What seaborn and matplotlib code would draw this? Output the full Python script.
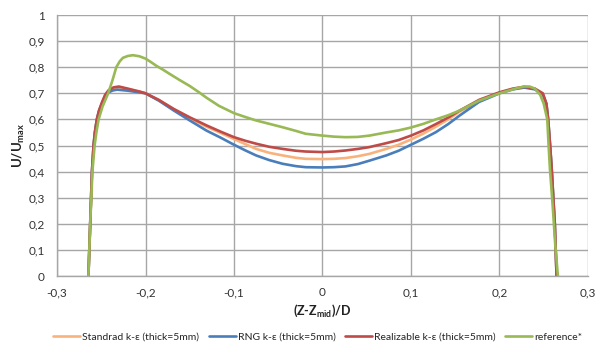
import matplotlib
matplotlib.use("Agg")
import matplotlib.pyplot as plt
import seaborn as sns
import pandas as pd
from matplotlib.ticker import MultipleLocator, FuncFormatter

# ---- data ----
labels = ["Standrad k-ε (thick=5mm)", "RNG k-ε (thick=5mm)",
          "Realizable k-ε (thick=5mm)", "reference*"]
colors = ["#F9B27C", "#4A7EBB", "#BE4B48", "#98B954"]

std_x = [-0.2645, -0.2635, -0.2625, -0.2615, -0.2605, -0.2587, -0.2572, -0.255, -0.2525,
         -0.249, -0.2455, -0.2417, -0.236, -0.230, -0.220, -0.2057, -0.200, -0.185, -0.168,
         -0.150, -0.131, -0.115, -0.100, -0.087, -0.075, -0.060, -0.045, -0.030, -0.019,
         0.000, 0.013, 0.026, 0.040, 0.053, 0.072, 0.086, 0.100, 0.114, 0.128, 0.142,
         0.155, 0.177, 0.200, 0.215, 0.228, 0.240, 0.249, 0.253, 0.255, 0.2572, 0.259,
         0.2608, 0.2625, 0.2645]
std_y = [0.0, 0.1, 0.2, 0.3, 0.4, 0.5, 0.55, 0.6, 0.633, 0.665, 0.692, 0.708, 0.719,
         0.722, 0.716, 0.705, 0.700, 0.674, 0.638, 0.604, 0.572, 0.548, 0.525, 0.505,
         0.487, 0.472, 0.462, 0.453, 0.449, 0.448, 0.449, 0.452, 0.459, 0.468, 0.487,
         0.503, 0.523, 0.546, 0.572, 0.600, 0.630, 0.672, 0.702, 0.716, 0.724, 0.717,
         0.698, 0.66, 0.60, 0.50, 0.41, 0.30, 0.2, 0.0]

rng_x = [-0.2645, -0.2635, -0.2625, -0.2615, -0.2605, -0.2587, -0.2572, -0.255, -0.2525,
         -0.249, -0.2455, -0.242, -0.237, -0.232, -0.220, -0.206, -0.200, -0.185, -0.168,
         -0.150, -0.131, -0.115, -0.100, -0.087, -0.075, -0.060, -0.045, -0.030, -0.019,
         0.000, 0.013, 0.026, 0.040, 0.053, 0.072, 0.086, 0.100, 0.114, 0.128, 0.142,
         0.155, 0.177, 0.200, 0.215, 0.228, 0.240, 0.249, 0.253, 0.255, 0.2572, 0.259,
         0.2608, 0.2625, 0.2645]
rng_y = [0.0, 0.1, 0.2, 0.3, 0.4, 0.5, 0.55, 0.6, 0.632, 0.663, 0.690, 0.703, 0.711,
         0.714, 0.710, 0.703, 0.700, 0.672, 0.634, 0.596, 0.557, 0.530, 0.503, 0.481,
         0.462, 0.444, 0.430, 0.421, 0.417, 0.416, 0.417, 0.420, 0.429, 0.442, 0.462,
         0.480, 0.503, 0.526, 0.551, 0.582, 0.615, 0.667, 0.700, 0.715, 0.722, 0.715,
         0.695, 0.66, 0.60, 0.50, 0.41, 0.30, 0.2, 0.0]

real_x = [-0.2645, -0.2635, -0.2625, -0.2615, -0.2605, -0.2587, -0.2572, -0.255, -0.2525,
          -0.249, -0.2455, -0.2417, -0.236, -0.230, -0.220, -0.2057, -0.200, -0.185, -0.168,
          -0.150, -0.131, -0.115, -0.100, -0.087, -0.075, -0.060, -0.045, -0.030, -0.019,
          0.000, 0.013, 0.026, 0.040, 0.053, 0.072, 0.086, 0.100, 0.114, 0.128, 0.142,
          0.155, 0.177, 0.200, 0.215, 0.228, 0.240, 0.249, 0.253, 0.255, 0.2572, 0.259,
          0.2608, 0.2625, 0.2645]
real_y = [0.0, 0.1, 0.2, 0.3, 0.4, 0.5, 0.55, 0.6, 0.635, 0.667, 0.695, 0.712, 0.723,
          0.726, 0.718, 0.706, 0.700, 0.675, 0.640, 0.608, 0.577, 0.553, 0.532, 0.518,
          0.507, 0.495, 0.487, 0.480, 0.477, 0.475, 0.477, 0.481, 0.487, 0.494, 0.509,
          0.521, 0.538, 0.558, 0.582, 0.607, 0.634, 0.675, 0.704, 0.718, 0.725, 0.718,
          0.700, 0.66, 0.60, 0.50, 0.41, 0.30, 0.2, 0.0]

ref_x = [-0.2645, -0.2635, -0.2625, -0.2612, -0.2600, -0.2575, -0.2555, -0.253, -0.2485,
         -0.2424, -0.2374, -0.233, -0.229, -0.2255, -0.220, -0.2143, -0.207, -0.200,
         -0.194, -0.188, -0.180, -0.173, -0.162, -0.150, -0.140, -0.131, -0.117, -0.100,
         -0.087, -0.075, -0.060, -0.045, -0.030, -0.019, 0.000, 0.013, 0.026, 0.040,
         0.053, 0.072, 0.086, 0.100, 0.114, 0.128, 0.142, 0.155, 0.177, 0.200, 0.211,
         0.220, 0.228, 0.234, 0.240, 0.246, 0.250, 0.254, 0.2555, 0.257, 0.2588, 0.2605,
         0.263, 0.266]
ref_y = [0.0, 0.1, 0.2, 0.3, 0.4, 0.5, 0.55, 0.6, 0.65, 0.698, 0.749, 0.800, 0.823,
         0.836, 0.843, 0.846, 0.842, 0.833, 0.820, 0.806, 0.790, 0.775, 0.752, 0.728,
         0.705, 0.683, 0.652, 0.624, 0.609, 0.596, 0.583, 0.570, 0.556, 0.545, 0.538,
         0.534, 0.532, 0.533, 0.538, 0.550, 0.558, 0.569, 0.583, 0.600, 0.616, 0.634,
         0.672, 0.700, 0.711, 0.720, 0.726, 0.726, 0.718, 0.694, 0.66, 0.60, 0.50, 0.41,
         0.33, 0.25, 0.12, 0.0]

series = [(std_x, std_y), (rng_x, rng_y), (real_x, real_y), (ref_x, ref_y)]

frames = []
for lab, (xs, ys) in zip(labels, series):
    frames.append(pd.DataFrame({"x": xs, "y": ys, "model": lab}))
df = pd.concat(frames, ignore_index=True)

# ---- style ----
sns.set_style("white")
plt.rcParams['font.family'] = ['Lato', 'DejaVu Sans']
plt.rcParams['mathtext.fontset'] = 'custom'
plt.rcParams['mathtext.rm'] = 'Lato'
plt.rcParams['mathtext.bf'] = 'Lato:bold'

fig = plt.figure(figsize=(6.09, 3.53), dpi=100)
ax = fig.add_axes([0.0936, 0.218, 0.8719, 0.7395])

sns.lineplot(data=df, x="x", y="y", hue="model", palette=colors, hue_order=labels,
             sort=False, estimator=None, units="model", linewidth=1.9, ax=ax, legend=False)

ax.set_xlim(-0.3, 0.3)
ax.set_ylim(0, 1)
ax.xaxis.set_major_locator(MultipleLocator(0.1))
ax.yaxis.set_major_locator(MultipleLocator(0.1))

def comma_fmt(v, pos):
    if abs(v) < 1e-9:
        return "0"
    if abs(v - 1) < 1e-9:
        return "1"
    return f"{v:.1f}".replace(".", ",")

ax.xaxis.set_major_formatter(FuncFormatter(comma_fmt))
ax.yaxis.set_major_formatter(FuncFormatter(comma_fmt))

ax.grid(True, color="#A6A6A6", linewidth=1.0)
ax.set_axisbelow(True)
for side in ["top", "right"]:
    ax.spines[side].set_visible(False)
for side in ["left", "bottom"]:
    ax.spines[side].set_color("#A6A6A6")
    ax.spines[side].set_linewidth(1.0)
ax.tick_params(axis="both", which="major", length=4, width=1.0, color="#A6A6A6",
               labelsize=8.5, labelcolor="#333333", direction="out", pad=5)
ax.tick_params(axis="x", pad=4)

ax.set_xlabel("(Z-Z$_{\\mathbf{mid}}$)/D", fontsize=9, fontweight="bold", color="#222222",
              labelpad=3)
ax.set_ylabel("U/U$_{\\mathbf{max}}$", fontsize=9.5, fontweight="bold", color="#222222",
              labelpad=1)

handles = [plt.Line2D([], [], color=c, linewidth=1.9) for c in colors]
fig.legend(handles, labels, loc="center", bbox_to_anchor=(0.522, 0.045), ncol=4,
           frameon=False, fontsize=7.5, handlelength=2.6, handletextpad=0.2,
           columnspacing=0.9)

fig.savefig("out.png", dpi=100)
